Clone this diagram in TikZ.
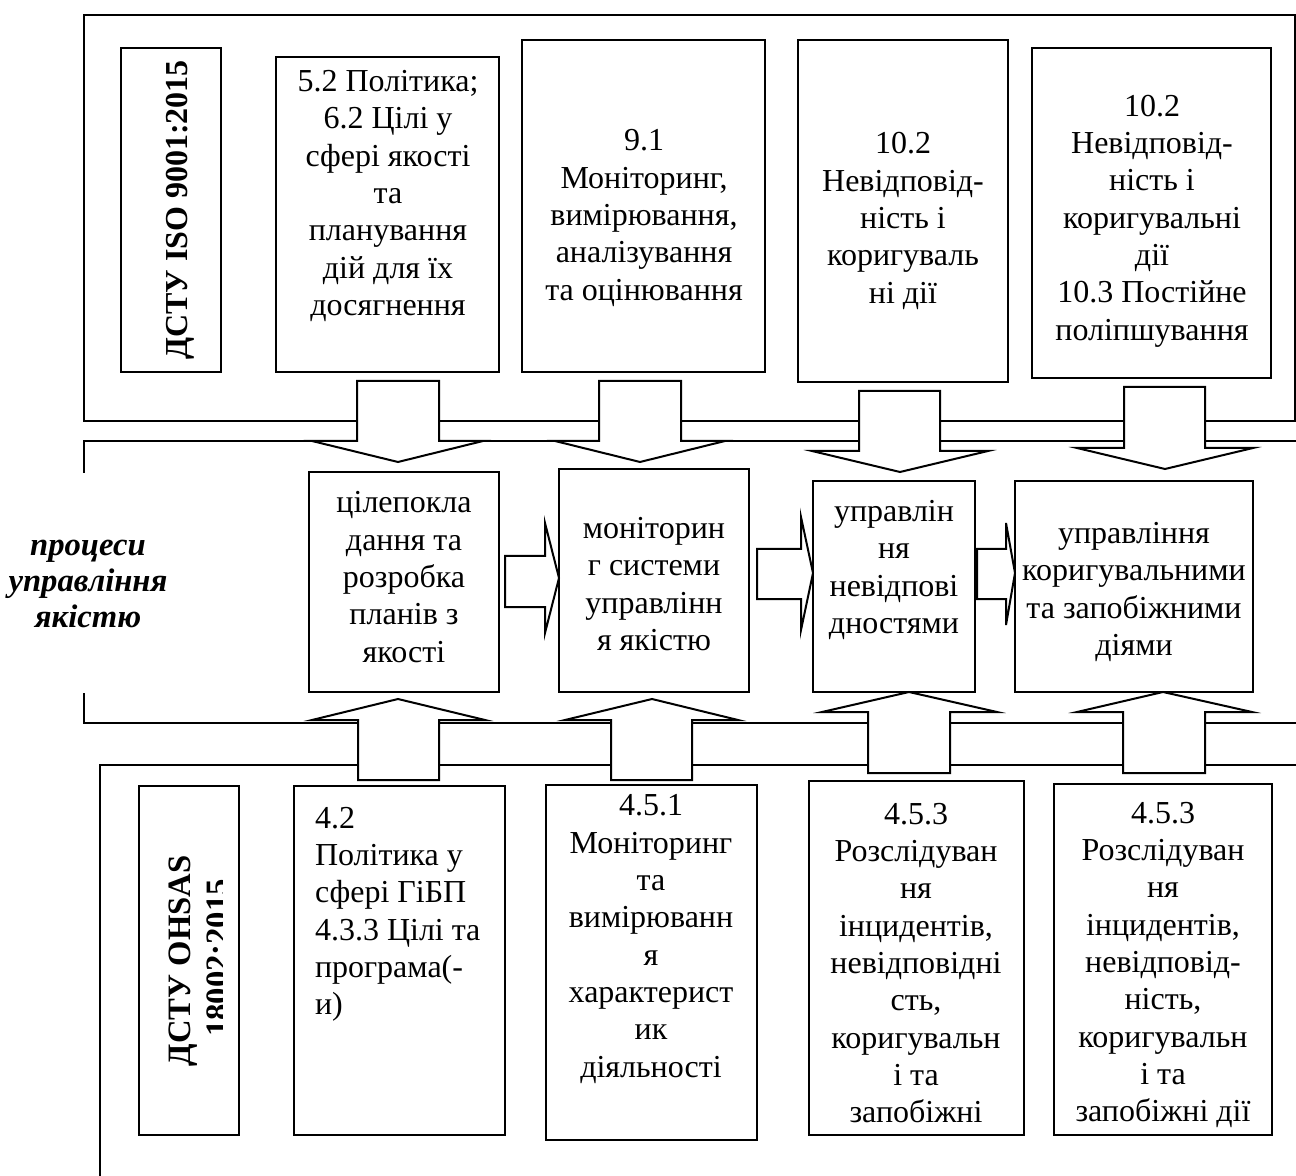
\documentclass[tikz,border=0pt]{standalone}
\usepackage{fontspec}
\setmainfont{Liberation Serif}
\newcommand\BoxAt[5]{\node[boxst, minimum width={(#4-#2)*0.75pt}, minimum height={(#5-#3)*0.75pt}] (#1) at ({(#2+#4)/2},{(#3+#5)/2}) {};}
% vertical block arrow: shaft xl xr, shaft end y1, base y2, wings wl wr, tip tx ty
\newcommand\VArrow[8]{\draw[blk] (#1,#3) -- (#2,#3) -- (#2,#4) -- (#6,#4) -- (#7,#8) -- (#5,#4) -- (#1,#4) -- cycle;}
% horizontal block arrow: shaft x1 xh, shaft yt yb, head yt yb, tip tx ty
\newcommand\HArrow[8]{\draw[blk] (#1,#3) -- (#2,#3) -- (#2,#5) -- (#7,#8) -- (#2,#6) -- (#2,#4) -- (#1,#4) -- cycle;}
\begin{document}
\begin{tikzpicture}[x=0.75pt,y=-0.75pt,line width=1.5pt,
  boxst/.style={draw, inner sep=0pt},
  txt/.style={align=center, inner sep=0pt, font=\fontsize{24}{28}\selectfont},
  blk/.style={draw, fill=white, line join=miter}]
\useasboundingbox (0,0) rectangle (1296,1176);
% frames
\draw (84,15) rectangle (1295,421);
\draw (1296,441) -- (84,441) -- (84,473);
\draw (84,693) -- (84,723) -- (1296,723);
\draw (100,1176) -- (100,765) -- (1296,765);

% top row (ISO)
\BoxAt{iso}{121}{48}{221}{372}
\node[inner sep=0pt, font=\fontsize{24}{28}\selectfont\bfseries, rotate=90, anchor=base] (isot) at (187,210) {ДСТУ ISO 9001:2015};
\BoxAt{t1}{276}{57}{499}{372}
\node[txt] (t1t) at (388,196) {5.2 Політика;\\6.2 Цілі у\\сфері якості\\та\\планування\\дій для їх\\досягнення};
\BoxAt{t2}{522}{40}{765}{372}
\node[txt] (t2t) at (644,218) {9.1\\Моніторинг,\\вимірювання,\\аналізування\\та оцінювання};
\BoxAt{t3}{798}{40}{1008}{382}
\node[txt] (t3t) at (903,221) {10.2\\Невідповід-\\ність і\\коригуваль\\ні дії};
\BoxAt{t4}{1032}{48}{1271}{378}
\node[txt] (t4t) at (1152,221) {10.2\\Невідповід-\\ність і\\коригувальні\\дії\\10.3 Постійне\\поліпшування};

% middle row
\node[align=center, inner sep=0pt, font=\fontsize{24.5}{27}\selectfont\bfseries\itshape] (proc) at (88,584) {процеси\\управління\\якістю};
\BoxAt{m1}{309}{472}{499}{692}
\node[txt] (m1t) at (404,577) {цілепокла\\дання та\\розробка\\планів з\\якості};
\BoxAt{m2}{559}{469}{749}{692}
\node[txt] (m2t) at (654,584) {моніторин\\г системи\\управлінн\\я якістю};
\BoxAt{m3}{813}{481}{975}{692}
\node[txt] (m3t) at (894,570) {управлін\\ня\\невідпові\\дностями};
\BoxAt{m4}{1015}{481}{1253}{692}
\node[txt] (m4t) at (1134,592) {управління\\коригувальними\\та запобіжними\\діями};

% bottom row (OHSAS)
\BoxAt{oh}{139}{786}{239}{1135}
\begin{scope}
\clip (139,786) rectangle (222,1135);
\node[inner sep=0pt, font=\fontsize{24.5}{28}\selectfont\bfseries, rotate=90, anchor=base] (oht1) at (190,961) {ДСТУ OHSAS};
\node[inner sep=0pt, font=\fontsize{24.5}{28}\selectfont\bfseries, rotate=90, anchor=base] (oht2) at (228,958) {18002:2015};
\end{scope}
\BoxAt{b1}{294}{786}{505}{1135}
\node[txt, align=left, anchor=north west] (b1t) at (314,806) {4.2\\Політика у\\сфері ГіБП\\4.3.3 Цілі та\\програма(-\\и)};
\BoxAt{b2}{546}{785}{757}{1140}
\node[txt] (b2t) at (651,939) {4.5.1\\Моніторинг\\та\\вимірюванн\\я\\характерист\\ик\\діяльності};
\BoxAt{b3}{809}{781}{1024}{1135}
\node[txt] (b3t) at (916,963) {4.5.3\\Розслідуван\\ня\\інцидентів,\\невідповідні\\сть,\\коригувальн\\і та\\запобіжні};
\BoxAt{b4}{1054}{784}{1272}{1135}
\node[txt] (b4t) at (1163,965) {4.5.3\\Розслідуван\\ня\\інцидентів,\\невідповід-\\ність,\\коригувальн\\і та\\запобіжні дії};

% down arrows
\VArrow{357}{439}{381}{441}{312}{483}{398}{462}
\VArrow{599}{681}{381}{441}{555}{725}{640}{462}
\VArrow{859}{940}{391}{451}{812}{988}{900}{472}
\VArrow{1124}{1205}{387}{448}{1077}{1253}{1165}{469}
% up arrows
\VArrow{358}{439}{780}{720}{312}{485}{398}{699}
\VArrow{611}{692}{780}{720}{565}{738}{652}{699}
\VArrow{868}{950}{773}{712}{822}{997}{909}{692}
\VArrow{1123}{1205}{773}{712}{1077}{1252}{1163}{692}
% right arrows
\HArrow{505}{545}{556}{607}{523}{633}{559}{578}
\HArrow{757}{801}{549}{599}{517}{630}{813}{573}
\HArrow{977}{1006}{549}{599}{523}{625}{1015}{573}
\end{tikzpicture}
\end{document}
